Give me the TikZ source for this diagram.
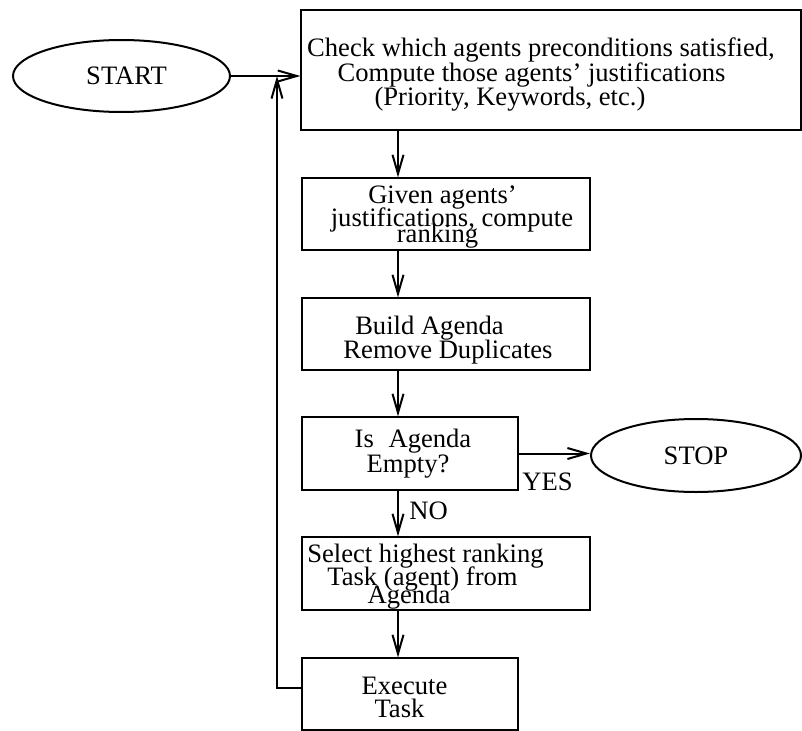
\documentclass[tikz,border=0pt]{standalone}
\usepackage{fontspec}
\setmainfont{Liberation Serif}
\usetikzlibrary{arrows.meta,shapes.geometric}
\begin{document}
\begin{tikzpicture}[x=1bp,y=-1bp,
  every node/.style={font=\fontsize{26.6bp}{26.6bp}\selectfont},
  stepbox/.style={draw, rectangle, line width=1.2bp, inner sep=0pt},
  term/.style={draw, ellipse, line width=2bp, inner sep=0pt},
  txt/.style={anchor=base, inner sep=0pt},
  flow/.style={line width=2bp, -{Straight Barb[length=19bp,width=11bp]}}
]
\useasboundingbox (0,0) rectangle (802,731);

% terminals
\node[term, minimum width=217bp, minimum height=72bp] (start) at (121.5,76) {\hspace*{10bp}\raisebox{-3bp}{START}};
\node[term, minimum width=210bp, minimum height=73bp] (stop) at (696,455.5) {STOP};

% process boxes
\node[stepbox, minimum width=500bp, minimum height=120bp] (b1) at (551,70) {};
\node[stepbox, minimum width=288bp, minimum height=72bp] (b2) at (446,214) {};
\node[stepbox, minimum width=288bp, minimum height=72bp] (b3) at (446,334) {};
\node[stepbox, minimum width=216bp, minimum height=73bp] (b4) at (410,453.5) {};
\node[stepbox, minimum width=288bp, minimum height=73bp] (b5) at (446,573.5) {};
\node[stepbox, minimum width=216bp, minimum height=72bp] (b6) at (410,694) {};

% box texts, one node per printed line
\node[txt] (b1l1) at (541,57) {Check which agents preconditions satisfied,};
\node[txt] (b1l2) at (531.5,82) {Compute those agents' justifications};
\node[txt] (b1l3) at (510,106) {(Priority, Keywords, etc.)};

\node[txt] (b2l1) at (442.5,203) {Given agents'};
\node[txt] (b2l2) at (452,226) {justifications, compute};
\node[txt] (b2l3) at (437.5,242) {ranking};

\node[txt] (b3l1) at (429.5,334) {Build Agenda};
\node[txt] (b3l2) at (448,358) {Remove Duplicates};

\node[txt] (b4l1) at (413,447) {Is\hspace{0.3em} Agenda};
\node[txt] (b4l2) at (408,472) {Empty?};

\node[txt] (b5l1) at (425.5,562) {Select highest ranking};
\node[txt] (b5l2) at (422.5,585) {Task (agent) from};
\node[txt] (b5l3) at (409,603) {Agenda};

\node[txt] (b6l1) at (404.5,694) {Execute};
\node[txt] (b6l2) at (399.5,717) {Task};

% branch labels
\node[txt] (yes) at (547.5,490) {YES};
\node[txt] (no) at (428.5,519) {NO};

% connectors
\coordinate (spine) at (398,0);
\coordinate (loop) at (277,76);
\draw[flow] (start.east) -- (start.east -| b1.west);
\draw[flow] (b1.south -| spine) -- (b2.north -| spine);
\draw[flow] (b2.south -| spine) -- (b3.north -| spine);
\draw[flow] (b3.south -| spine) -- (b4.north -| spine);
\draw[flow] (b4.south -| spine) -- (b5.north -| spine);
\draw[flow] (b5.south -| spine) -- (b6.north -| spine);
\draw[flow] (b4.east) -- (b4.east -| stop.west);
\draw[flow] ([yshift=6bp]b6.west) -| (loop);
\end{tikzpicture}
\end{document}
